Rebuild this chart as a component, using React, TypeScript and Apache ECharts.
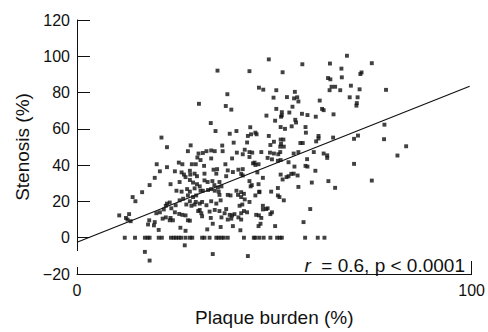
import React, { useEffect, useRef } from "react";
import * as echarts from "echarts";

const FONT = "'Liberation Sans', Arial, Helvetica, sans-serif";

// Tick labels / axis text
const xTitle = "Plaque burden (%)";
const yTitle = "Stenosis (%)";
const statsLabel = "r = 0.6, p < 0.0001";

// Scatter points [plaque burden %, stenosis %]
const upperPoints: [number, number][] = [
  [35.6, 92.1], [43.7, 91.8], [48.6, 98.3], [52.1, 91.2], [57.1, 95.6], [64.1, 96.0], [68.4, 100.3],
  [74.7, 96.2], [67.0, 93.2], [72.1, 91.1], [71.8, 90.2], [67.1, 88.4], [63.6, 88.0], [64.2, 87.3],
  [78.3, 81.5], [30.9, 73.8], [38.1, 79.1], [37.7, 72.6], [39.1, 70.6], [46.1, 82.7], [47.2, 81.6],
  [50.5, 81.3], [49.8, 77.2], [53.2, 77.5], [55.2, 80.4], [55.0, 76.8], [55.8, 77.4], [56.1, 75.1],
  [50.5, 71.0], [51.9, 69.2], [51.9, 67.4], [53.8, 69.0], [54.6, 72.2], [57.0, 68.3], [58.4, 67.6],
  [60.5, 66.7], [61.5, 75.6], [62.1, 71.0], [62.5, 70.3], [65.0, 68.0], [64.5, 83.2], [65.4, 83.2],
  [64.0, 81.3], [66.7, 81.3], [69.4, 83.8], [71.6, 81.8], [69.1, 77.4], [71.1, 77.4], [70.9, 74.2],
  [70.8, 72.8], [48.0, 67.3],
];

const middleLeftPoints: [number, number][] = [
  [33.9, 63.2], [35.1, 58.8], [38.7, 57.3], [40.4, 58.8], [21.4, 55.2], [22.8, 49.9], [28.8, 50.9],
  [28.1, 47.7], [36.8, 50.8], [39.7, 52.4], [30.8, 46.4], [30.5, 44.2], [31.3, 42.8], [31.9, 46.7],
  [32.8, 47.7], [34.0, 48.1], [34.9, 47.7], [36.9, 47.7], [40.5, 46.9], [34.0, 43.7], [39.3, 43.7],
  [20.2, 40.5], [21.0, 36.6], [22.8, 38.9], [25.8, 41.4], [26.7, 40.5], [29.1, 40.5], [30.1, 40.5],
  [32.2, 39.6], [35.5, 37.8], [37.6, 40.5], [38.2, 37.1], [39.5, 36.2], [24.8, 36.6], [26.5, 36.0],
  [27.1, 34.8], [27.5, 33.4], [28.6, 36.9], [28.7, 34.8], [29.8, 35.3], [30.4, 33.9], [32.3, 35.3],
  [34.6, 37.5], [35.3, 35.3], [19.7, 33.0], [18.4, 29.0], [16.5, 25.1], [23.7, 29.5], [26.0, 30.7],
  [28.6, 31.8], [29.4, 30.4], [30.4, 29.5], [31.1, 28.3], [32.3, 31.6], [33.1, 30.7], [34.3, 31.2],
  [34.8, 29.0], [36.1, 30.7], [36.6, 28.3], [25.2, 25.9], [26.5, 25.4], [27.9, 26.8], [28.6, 25.4],
  [29.8, 27.2], [31.9, 25.9], [33.2, 26.3], [34.0, 26.8], [34.9, 25.9], [35.7, 27.7], [40.4, 25.9],
  [37.8, 33.9],
];

const middleRightPoints: [number, number][] = [
  [50.2, 64.5], [51.7, 66.7], [55.3, 65.0], [55.5, 63.5], [54.4, 61.4], [51.6, 61.0], [52.7, 60.0],
  [57.9, 61.0], [58.0, 57.9], [43.9, 60.9], [45.2, 57.9], [45.5, 57.0], [44.1, 57.0], [43.3, 56.1],
  [48.6, 56.1], [51.6, 54.1], [52.3, 54.1], [49.9, 52.9], [51.7, 51.7], [52.4, 50.2], [51.5, 50.2],
  [49.0, 51.1], [43.1, 52.5], [56.6, 52.2], [57.2, 52.2], [61.2, 56.1], [61.2, 54.7], [60.6, 53.1],
  [64.9, 55.2], [70.2, 54.5], [71.2, 56.3], [77.8, 54.3], [77.9, 62.3], [83.4, 50.4], [81.2, 45.3],
  [42.0, 46.0], [42.5, 48.5], [43.7, 47.2], [44.4, 46.9], [46.7, 47.2], [48.9, 46.9], [49.9, 46.4],
  [51.0, 46.0], [51.5, 47.2], [54.9, 46.4], [56.1, 47.2], [60.0, 47.2], [62.5, 46.4], [63.4, 45.4],
  [63.4, 44.0], [58.3, 43.3], [49.4, 43.2], [50.9, 42.4], [51.6, 42.8], [43.7, 44.5], [44.6, 41.0],
  [45.0, 41.4], [45.2, 40.1], [46.0, 40.5], [48.3, 44.0], [53.6, 41.6], [55.1, 39.2], [57.9, 39.6],
  [58.4, 39.2], [60.4, 36.9], [70.2, 40.7], [40.9, 37.5], [42.0, 37.8], [45.7, 36.0], [41.6, 35.2],
  [42.0, 34.3], [47.1, 33.0], [51.6, 34.8], [52.1, 32.1], [53.1, 33.4], [53.6, 33.9], [54.3, 35.2],
  [54.9, 35.3], [55.9, 34.3], [43.7, 31.2], [44.3, 29.0], [44.0, 28.3], [46.0, 29.5], [50.9, 27.4],
  [56.1, 28.0], [59.5, 30.4], [63.7, 31.2], [65.4, 27.5], [74.7, 31.5], [49.2, 25.4], [46.2, 25.4],
  [41.6, 25.1],
];

const lowerLeftPoints: [number, number][] = [
  [14.1, 22.4], [14.8, 20.1], [10.7, 12.3], [13.2, 13.0], [12.4, 10.9], [12.8, 10.0], [13.6, 9.1],
  [18.3, 9.6], [18.0, 7.3], [19.7, 8.6], [19.5, 6.8], [20.7, 4.3], [20.1, 13.5], [21.0, 14.0],
  [21.7, 10.5], [22.5, 11.2], [23.7, 10.9], [24.3, 9.6], [23.5, 9.6], [22.0, 15.6], [22.8, 18.8],
  [23.5, 19.4], [22.5, 17.6], [23.9, 16.2], [25.0, 17.9], [24.8, 14.0], [25.9, 13.1], [26.7, 12.6],
  [27.5, 12.3], [26.2, 5.5], [27.5, 3.8], [28.1, 9.6], [28.6, 9.4], [28.1, 23.3], [29.4, 22.4],
  [26.0, 20.6], [26.9, 21.5], [28.6, 20.1], [30.1, 19.7], [27.7, 18.3], [29.0, 17.6], [29.8, 18.3],
  [30.7, 14.7], [27.3, -4.2], [17.2, -7.8], [18.4, -12.6],
];

const lowerRightPoints: [number, number][] = [
  [34.4, -9.0], [43.3, -10.1], [57.4, 8.6], [59.1, 15.8], [30.2, 23.3], [31.3, 25.9], [35.9, 25.4],
  [36.1, 23.6], [38.2, 23.6], [38.9, 23.3], [40.8, 23.6], [41.6, 22.4], [42.3, 24.2], [42.5, 21.1],
  [43.7, 19.7], [45.2, 23.3], [46.2, 25.1], [50.9, 23.3], [51.3, 22.4], [52.4, 20.6], [31.1, 18.8],
  [31.7, 19.7], [32.8, 17.9], [34.0, 20.1], [35.3, 18.8], [36.4, 20.6], [31.1, 15.3], [31.5, 13.5],
  [31.7, 11.8], [33.6, 14.4], [34.9, 15.3], [36.1, 14.7], [37.8, 15.8], [37.4, 13.5], [38.7, 12.6],
  [39.3, 12.3], [39.9, 13.0], [33.9, 10.9], [36.6, 11.2], [38.2, 10.0], [39.1, 10.5], [40.9, 11.2],
  [41.6, 10.0], [41.6, 13.5], [42.3, 14.7], [43.1, 14.0], [41.2, 17.6], [41.9, 18.3], [45.4, 12.6],
  [46.1, 12.3], [46.7, 10.9], [47.1, 15.6], [47.9, 15.8], [49.0, 13.0], [49.4, 14.0], [47.1, 17.6],
  [48.3, 16.2], [34.4, 7.7], [36.4, 5.9], [33.0, 4.6], [39.5, 6.4], [41.4, 4.1], [46.0, 6.4],
  [46.5, 7.7], [50.2, 6.4],
];

// Patients with 0% stenosis (plaque burden values)
const zeroStenosisBurden: number[] = [
  12.1, 14.7, 17.2, 17.9, 18.4, 20.7, 21.5, 23.8, 24.5, 25.1, 25.8, 26.4, 27.5, 28.6, 29.2, 31.7,
  32.3, 33.6, 35.3, 35.9, 36.6, 37.2, 38.2, 42.3, 44.8, 45.2, 46.2, 47.3, 49.0, 50.7, 51.4, 51.9,
  57.8, 61.0, 62.7,
];

// Regression line end points
const regressionLine: [number, number][] = [
  [0, -2.5],
  [99.5, 83.5],
];

export default function App() {
  const ref = useRef<HTMLDivElement>(null);

  useEffect(() => {
    if (!ref.current) return;
    const chart = echarts.init(ref.current, undefined, { renderer: "svg" });

    const allPoints: [number, number][] = [
      ...upperPoints,
      ...middleLeftPoints,
      ...middleRightPoints,
      ...lowerLeftPoints,
      ...lowerRightPoints,
      ...zeroStenosisBurden.map((x) => [x, 0] as [number, number]),
    ];

    const axisColor = "#111";

    chart.setOption({
      animation: false,
      backgroundColor: "#fff",
      grid: { left: 77, right: 15, top: 20, bottom: 49, containLabel: false },
      xAxis: {
        type: "value",
        min: 0,
        max: 100,
        interval: 100,
        name: xTitle,
        nameLocation: "middle",
        nameGap: 34,
        nameTextStyle: { fontSize: 19, color: axisColor, fontFamily: FONT },
        axisLine: { show: true, onZero: false, lineStyle: { color: axisColor, width: 1 } },
        axisTick: { show: true, inside: true, length: 13, lineStyle: { color: axisColor, width: 1 } },
        axisLabel: { fontSize: 16, color: axisColor, margin: 8, fontFamily: FONT },
        splitLine: { show: false },
      },
      yAxis: {
        type: "value",
        min: -20,
        max: 120,
        interval: 20,
        name: yTitle,
        nameLocation: "middle",
        nameRotate: 90,
        nameGap: 44,
        nameTextStyle: { fontSize: 19, color: axisColor, fontFamily: FONT },
        axisLine: { show: true, onZero: false, lineStyle: { color: axisColor, width: 1 } },
        axisTick: { show: true, inside: true, length: 13, lineStyle: { color: axisColor, width: 1 } },
        axisLabel: {
          fontSize: 16,
          color: axisColor,
          margin: 7,
          fontFamily: FONT,
          formatter: (v: number) => (v < 0 ? "\u2212" + Math.abs(v) : String(v)),
        },
        splitLine: { show: false },
      },
      series: [
        {
          type: "scatter",
          data: allPoints,
          symbol: "rect",
          symbolSize: 3.9,
          itemStyle: { color: "#111" },
          silent: true,
          z: 3,
        },
        {
          type: "line",
          data: regressionLine,
          symbol: "none",
          lineStyle: { color: "#111", width: 1.2 },
          silent: true,
          z: 2,
        },
      ],
      graphic: [
        {
          type: "rect",
          shape: { x: 75, y: 251, width: 5, height: 16 },
          style: { fill: "#fff" },
          z: 100,
          silent: true,
        },
        {
          type: "text",
          x: 465,
          y: 265,
          z: 100,
          style: {
            text: "{i|r}  " + statsLabel.slice(2),
            fontSize: 19,
            fontFamily: FONT,
            fill: "#111",
            align: "right",
            verticalAlign: "middle",
            rich: {
              i: { fontStyle: "italic", fontSize: 19, fontFamily: FONT, fill: "#111" },
            },
          },
        },
      ],
    });

    return () => chart.dispose();
  }, []);

  return (
    <div
      ref={ref}
      style={{ position: "fixed", left: 0, top: 0, width: 488, height: 332, background: "#fff" }}
    />
  );
}
